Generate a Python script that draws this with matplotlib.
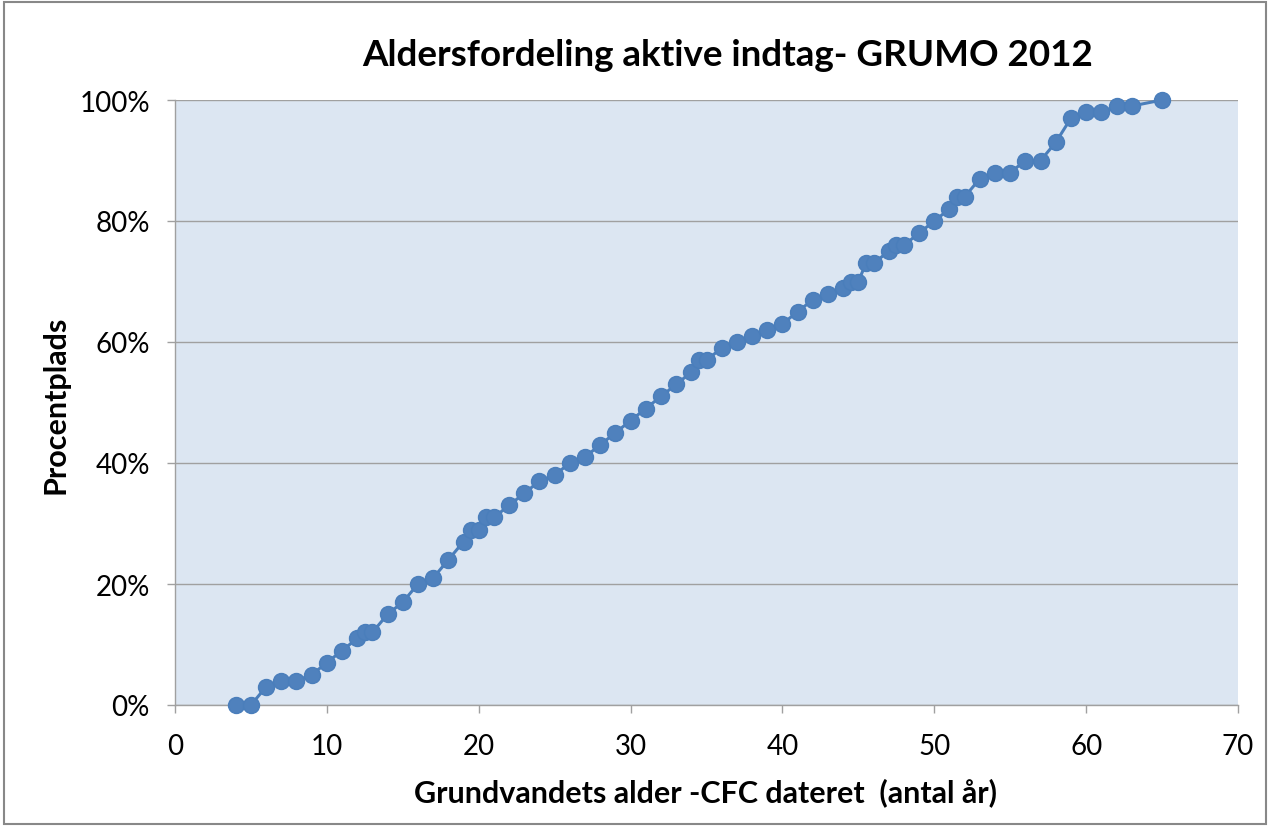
import numpy as np
import matplotlib.pyplot as plt
from matplotlib.ticker import PercentFormatter
from matplotlib.patches import Rectangle

# age (years) and percentile position
alder = [4, 5, 6, 7, 8, 9, 10, 11, 12, 12.5, 13, 14, 15, 16, 17, 18, 19, 19.5, 20,
         20.5, 21, 22, 23, 24, 25, 26, 27, 28, 29, 30, 31, 32, 33, 34, 34.5, 35,
         36, 37, 38, 39, 40, 41, 42, 43, 44, 44.5, 45, 45.5, 46, 47, 47.5, 48, 49,
         50, 51, 51.5, 52, 53, 54, 55, 56, 57, 58, 59, 60, 61, 62, 63, 65]
procent = [0, 0, 3, 4, 4, 5, 7, 9, 11, 12, 12, 15, 17, 20, 21, 24, 27, 29, 29,
           31, 31, 33, 35, 37, 38, 40, 41, 43, 45, 47, 49, 51, 53, 55, 57, 57,
           59, 60, 61, 62, 63, 65, 67, 68, 69, 70, 70, 73, 73, 75, 76, 76, 78,
           80, 82, 84, 84, 87, 88, 88, 90, 90, 93, 97, 98, 98, 99, 99, 100]

title = 'Aldersfordeling aktive indtag- GRUMO 2012'
xlabel = 'Grundvandets alder -CFC dateret  (antal år)'
ylabel = 'Procentplads'

plt.rcParams['font.family'] = ['Lato', 'DejaVu Sans']

fig = plt.figure(figsize=(12.7, 8.28), dpi=100)
ax = fig.add_axes([175/1270, 1 - 706/828, (1238 - 175)/1270, (706 - 101)/828])

ax.set_facecolor('#dce6f2')
ax.plot(alder, np.array(procent) / 100, color='#4a7ebb', linewidth=2.2,
        marker='o', markersize=11.5, markerfacecolor='#4f81bd',
        markeredgecolor='#4a7ebb', clip_on=False, zorder=3)

ax.set_xlim(0, 70)
ax.set_ylim(0, 1)
ax.set_xticks(np.arange(0, 71, 10))
ax.set_yticks(np.arange(0, 1.01, 0.2))
ax.yaxis.set_major_formatter(PercentFormatter(1.0, decimals=0))
ax.grid(axis='y', color='#a0a0a0', linewidth=1.0)
ax.set_axisbelow(True)

for s in ['top', 'right']:
    ax.spines[s].set_visible(False)
for s in ['left', 'bottom']:
    ax.spines[s].set_color('#a0a0a0')
    ax.spines[s].set_linewidth(1.0)
ax.tick_params(axis='both', colors='#a0a0a0', labelcolor='black', labelsize=20,
               length=6, width=1.0, direction='out')
ax.tick_params(axis='x', pad=14)
ax.tick_params(axis='y', pad=12)

fig.text(728/1270, 1 - 55/828, title, ha='center', va='center',
         fontsize=26.5, fontweight='bold')
fig.text(706/1270, 1 - 793/828, xlabel, ha='center', va='center',
         fontsize=22, fontweight='bold')
fig.text(55/1270, 1 - 405/828, ylabel, ha='center', va='center',
         rotation=90, fontsize=22, fontweight='bold')

fig.patches.append(Rectangle((0.003, 0.004), 0.994, 0.992, transform=fig.transFigure,
                             fill=False, edgecolor='#888888', linewidth=1.5))

fig.savefig('out.png', dpi=100)
